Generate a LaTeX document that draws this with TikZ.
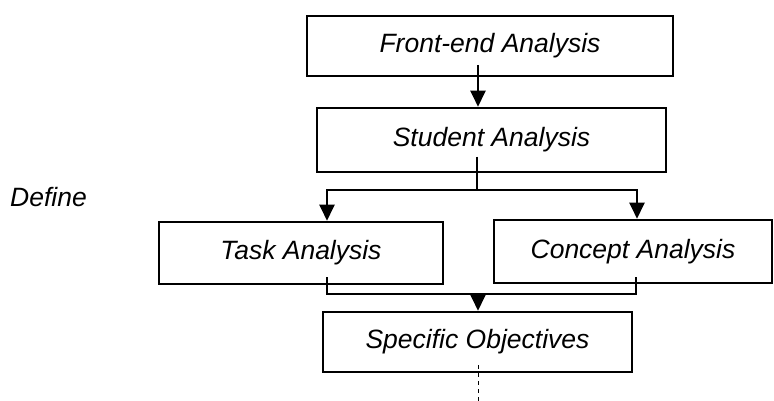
\documentclass[tikz,border=0pt]{standalone}
\usepackage{fontspec}
\setmainfont{Liberation Sans}
\usetikzlibrary{arrows.meta}
\begin{document}
\begin{tikzpicture}[x=1pt,y=-1pt,
  box/.style={draw,line width=2.6pt,inner sep=0pt,font=\itshape\fontsize{26.5}{30}\selectfont},
  lbl/.style={inner sep=0pt,font=\itshape\fontsize{26.5}{30}\selectfont},
  conn/.style={line width=2.4pt},
  arr/.style={conn,-{Triangle[width=15pt,length=16pt]}},
  dashline/.style={line width=1pt,dash pattern=on 4pt off 4pt}]
\useasboundingbox (0,0) rectangle (774,401);
\node[box,minimum width=366pt,minimum height=60pt] (fe) at (490,46) {Front-end Analysis};
\node[box,minimum width=349pt,minimum height=64pt] (sa) at (491.5,140) {Student Analysis};
\node[box,minimum width=284pt,minimum height=62pt] (ta) at (301,253) {Task Analysis};
\node[box,minimum width=278pt,minimum height=63pt] (ca) at (633,251.5) {Concept Analysis};
\node[box,minimum width=309pt,minimum height=60pt] (so) at (477.5,342) {Specific Objectives};
\node[lbl,anchor=base west] (def) at (10,206) {Define};
\coordinate (s1) at (478,65);
\coordinate (s2) at (477,157);
\coordinate (tl) at (327,190);
\coordinate (tr) at (637,190);
\coordinate (b1) at (327,277);
\coordinate (b2) at (636,277);
\coordinate (ml) at (327,294);
\coordinate (mr) at (636,294);
\coordinate (mc) at (478,294);
\coordinate (d1) at (478,365);
\coordinate (d2) at (478,401);
\draw[arr] (s1) -- (s1 |- fe.south) -- (s1 |- sa.north);
\draw[arr] (s2) |- (tl) -- (tl |- ta.north);
\draw[arr] (s2) |- (tr) -- (tr |- ca.north);
\draw[conn] (b1) -- (ml) -- (mr) -- (b2);
\draw[arr] (mc) -- (mc |- so.north);
\draw[dashline] (d1) -- (d2);
\end{tikzpicture}
\end{document}
